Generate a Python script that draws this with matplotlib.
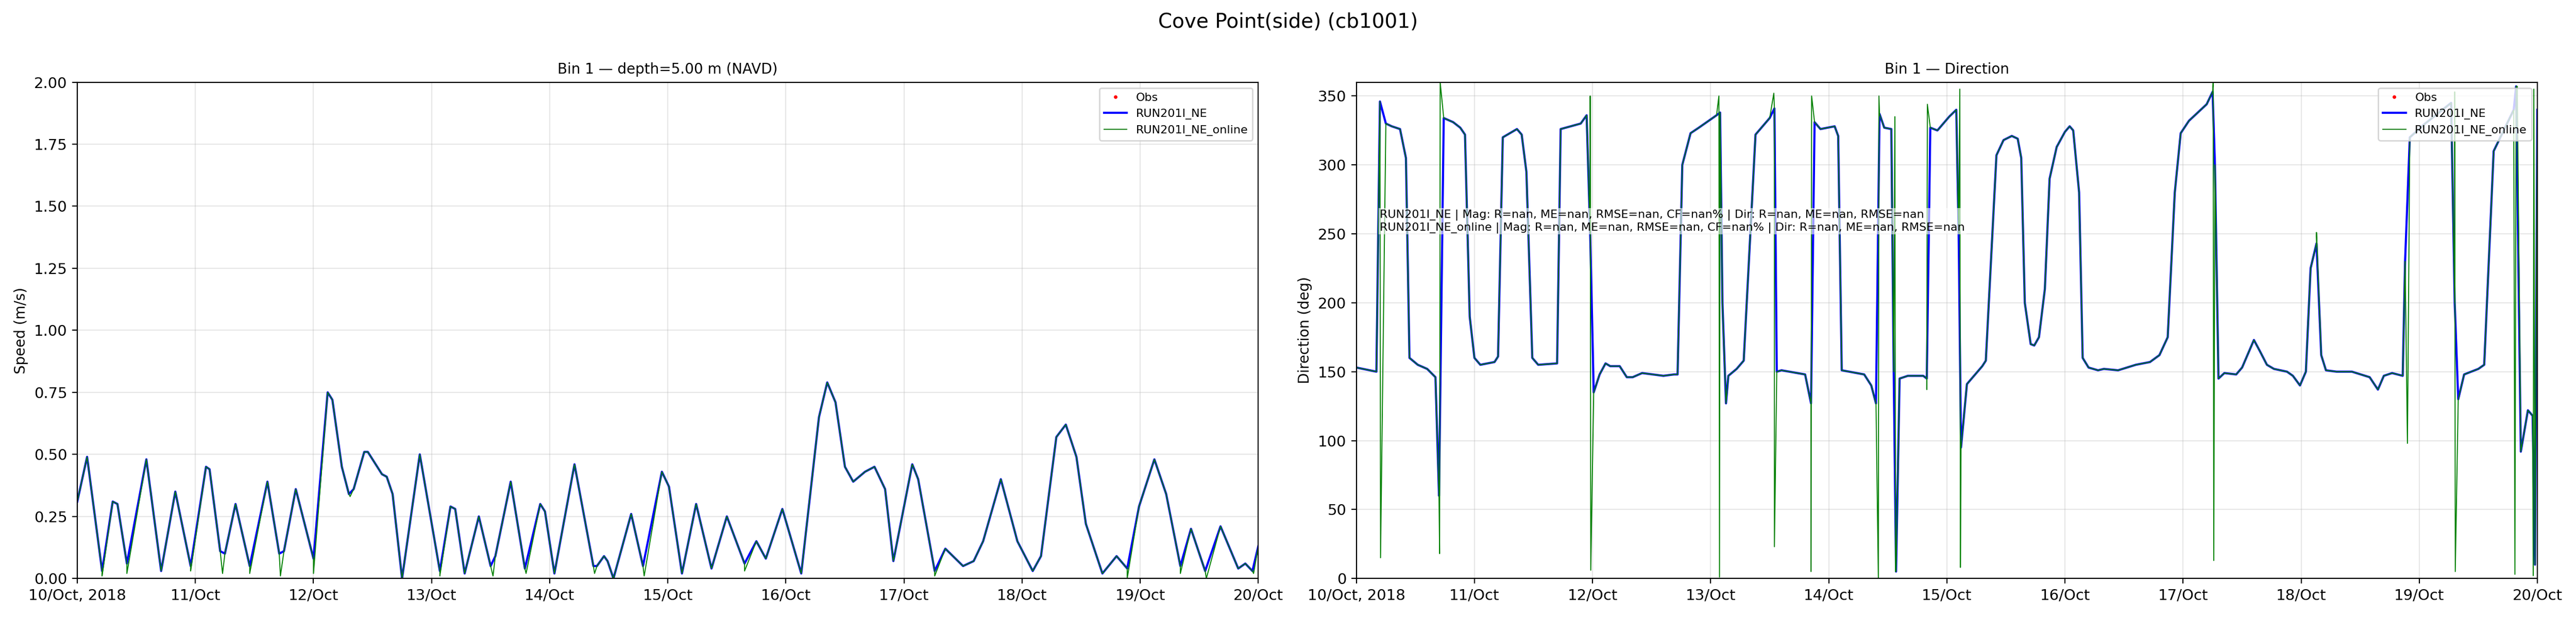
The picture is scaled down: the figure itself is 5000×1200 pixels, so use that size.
import numpy as np
import matplotlib.pyplot as plt
import matplotlib.dates as mdates
from matplotlib.ticker import FuncFormatter
from datetime import datetime, timedelta

start = datetime(2018, 10, 10)

# speed (m/s), model RUN201I_NE: turning points (days since 10 Oct, value)
spd_t = [0, .083, .21, .30, .34, .42, .585, .71, .83, .96, 1.09, 1.12, 1.21, 1.25, 1.34, 1.46, 1.61, 1.71, 1.75, 1.85,
         2.0, 2.12, 2.16, 2.24, 2.30, 2.34, 2.43, 2.46, 2.58, 2.62, 2.67, 2.75, 2.90, 3.07, 3.16, 3.20, 3.28, 3.40, 3.50,
         3.54, 3.67, 3.79, 3.92, 3.96, 4.04, 4.21, 4.37, 4.40, 4.46, 4.49, 4.54, 4.69, 4.79, 4.95, 5.01, 5.12, 5.24,
         5.37, 5.50, 5.65, 5.75, 5.83, 5.97, 6.13, 6.28, 6.35, 6.42, 6.50, 6.57, 6.67, 6.75, 6.84, 6.91, 7.07, 7.12,
         7.26, 7.35, 7.50, 7.59, 7.67, 7.82, 7.96, 8.09, 8.16, 8.29, 8.37, 8.46, 8.54, 8.68, 8.80, 8.89, 8.99, 9.12,
         9.22, 9.34, 9.43, 9.55, 9.68, 9.83, 9.89, 9.95, 10.0]
spd_v = [.31, .49, .03, .31, .30, .06, .48, .03, .35, .05, .45, .44, .11, .10, .30, .05, .39, .10, .11, .36,
         .08, .75, .72, .45, .34, .36, .51, .51, .42, .41, .34, .0, .50, .03, .29, .28, .02, .25, .05,
         .09, .39, .04, .30, .27, .02, .46, .05, .05, .09, .07, .0, .26, .05, .43, .37, .02, .30,
         .04, .25, .06, .15, .08, .28, .02, .65, .79, .71, .45, .39, .43, .45, .36, .07, .46, .40,
         .03, .12, .05, .07, .15, .40, .15, .03, .09, .57, .62, .49, .22, .02, .09, .04, .29, .48,
         .34, .05, .20, .03, .21, .04, .06, .03, .13]
# online run: deeper minima at these times
spd_on_t = [.21, .42, .96, 1.23, 1.46, 1.72, 2.0, 2.31, 3.07, 3.28, 3.52, 3.80, 4.38, 4.80, 5.65, 7.26, 8.89, 9.34, 9.56, 9.96]
spd_on_v = [.01, .02, .03, .02, .02, .01, .02, .33, .01, .02, .01, .02, .02, .01, .03, .01, .0, .02, .0, .02]

# direction (deg), model RUN201I_NE
dir_t = [0, .17, .2, .25, .3, .37, .42, .45, .52, .6, .67, .70, .74, .82, .88, .92, .96, 1.0, 1.05, 1.17, 1.2, 1.24,
         1.36, 1.4, 1.44, 1.49, 1.54, 1.7, 1.73, 1.9, 1.95, 1.98, 2.01, 2.06, 2.11, 2.15, 2.23, 2.29, 2.34, 2.42, 2.6,
         2.69, 2.72, 2.76, 2.83, 2.9, 3.05, 3.08, 3.1, 3.13, 3.15, 3.22, 3.28, 3.38, 3.5, 3.54, 3.56, 3.6, 3.8, 3.85,
         3.88, 3.93, 4.05, 4.08, 4.11, 4.3, 4.36, 4.40, 4.43, 4.47, 4.53, 4.55, 4.57, 4.6, 4.67, 4.8, 4.83, 4.86, 4.92,
         5.02, 5.08, 5.10, 5.12, 5.17, 5.3, 5.33, 5.42, 5.48, 5.55, 5.6, 5.63, 5.66, 5.71, 5.74, 5.78, 5.83, 5.87, 5.93,
         6.0, 6.04, 6.07, 6.12, 6.15, 6.2, 6.28, 6.33, 6.45, 6.6, 6.72, 6.8, 6.87, 6.93, 6.98, 7.05, 7.2, 7.25, 7.27,
         7.3, 7.35, 7.45, 7.5, 7.6, 7.65, 7.71, 7.77, 7.88, 7.93, 7.99, 8.04, 8.08, 8.13, 8.17, 8.21, 8.3, 8.43, 8.58,
         8.65, 8.7, 8.77, 8.86, 8.88, 8.92, 9.05, 9.27, 9.3, 9.33, 9.38, 9.5, 9.55, 9.63, 9.8, 9.82, 9.86, 9.92, 9.96,
         9.98, 10.0]
dir_v = [153, 150, 346, 330, 328, 326, 305, 160, 155, 152, 146, 60, 334, 331, 327, 322, 190, 160, 155, 157, 161, 320,
         326, 322, 295, 160, 155, 156, 326, 330, 336, 250, 135, 148, 156, 154, 154, 146, 146, 149, 147,
         148, 148, 300, 323, 327, 336, 338, 200, 127, 147, 152, 158, 322, 334, 341, 150, 151, 148, 127,
         331, 326, 328, 321, 151, 148, 140, 127, 337, 327, 326, 150, 5, 145, 147, 147, 145, 327, 325,
         335, 340, 250, 95, 141, 154, 158, 307, 318, 321, 319, 305, 200, 170, 169, 175, 210, 290, 313,
         324, 328, 325, 280, 160, 153, 151, 152, 151, 155, 157, 162, 175, 280, 323, 332, 344, 353, 300,
         145, 149, 148, 153, 173, 165, 155, 152, 150, 147, 140, 150, 225, 243, 162, 151, 150, 150, 146,
         137, 147, 149, 147, 230, 320, 330, 345, 200, 130, 148, 152, 155, 310, 340, 357, 92, 122, 118,
         10, 340]
# online run: wrap-around spikes
dir_on_t = [.205, .705, .71, 1.98, 1.985, 3.07, 3.075, 3.535, 3.54, 3.85, 3.855, 4.42, 4.425, 4.56, 4.565, 4.83,
            4.835, 5.11, 5.115, 7.255, 7.26, 8.13, 8.9, 9.3, 9.305, 9.81, 9.83, 9.965, 9.97]
dir_on_v = [15, 18, 360, 350, 6, 350, 1, 352, 23, 5, 350, 0, 350, 335, 5, 137, 344, 355, 8, 360, 13, 251, 98, 353,
            5, 3, 357, 2, 355]


def merged(t, v, t2, v2):
    tt = np.concatenate([t, t2])
    vv = np.concatenate([v, v2])
    o = np.argsort(tt, kind='stable')
    return tt[o], vv[o]


def to_dates(t):
    return [start + timedelta(days=float(d)) for d in t]


fig, axes = plt.subplots(1, 2, figsize=(25, 6), dpi=200)
fig.subplots_adjust(left=0.03, right=0.985, top=0.867, bottom=0.064, wspace=0.083)
fig.suptitle('Cove Point(side) (cb1001)', fontsize=14)

son_t, son_v = merged(spd_t, spd_v, spd_on_t, spd_on_v)
don_t, don_v = merged(dir_t, dir_v, dir_on_t, dir_on_v)

series = [
    (axes[0], spd_t, spd_v, son_t, son_v, 'Bin 1 — depth=5.00 m (NAVD)', 'Speed (m/s)', (0, 2)),
    (axes[1], dir_t, dir_v, don_t, don_v, 'Bin 1 — Direction', 'Direction (deg)', (0, 360)),
]


def fmt(x, pos):
    d = mdates.num2date(x)
    if d.day == 10:
        return d.strftime('%d/%b, %Y')
    return d.strftime('%d/%b')


for ax, t, v, t2, v2, title, ylab, yl in series:
    ax.plot([], [], 'r.', markersize=3, label='Obs')
    ax.plot(to_dates(t), v, color='blue', lw=1.5, label='RUN201I_NE')
    ax.plot(to_dates(t2), v2, color='green', lw=0.7, label='RUN201I_NE_online')
    ax.set_title(title, fontsize=10)
    ax.set_ylabel(ylab, fontsize=10)
    ax.set_ylim(*yl)
    ax.set_xlim(start, start + timedelta(days=10))
    ax.xaxis.set_major_locator(mdates.DayLocator())
    ax.xaxis.set_major_formatter(FuncFormatter(fmt))
    ax.tick_params(labelsize=10.5)
    ax.grid(True, alpha=0.3)
    ax.legend(loc='upper right', fontsize=8)

axes[1].text(0.02, 0.72,
             'RUN201I_NE | Mag: R=nan, ME=nan, RMSE=nan, CF=nan% | Dir: R=nan, ME=nan, RMSE=nan\n'
             'RUN201I_NE_online | Mag: R=nan, ME=nan, RMSE=nan, CF=nan% | Dir: R=nan, ME=nan, RMSE=nan',
             transform=axes[1].transAxes, fontsize=8, va='center', zorder=5,
             bbox=dict(facecolor='white', alpha=0.6, edgecolor='none', pad=1))

plt.savefig('out.png')
